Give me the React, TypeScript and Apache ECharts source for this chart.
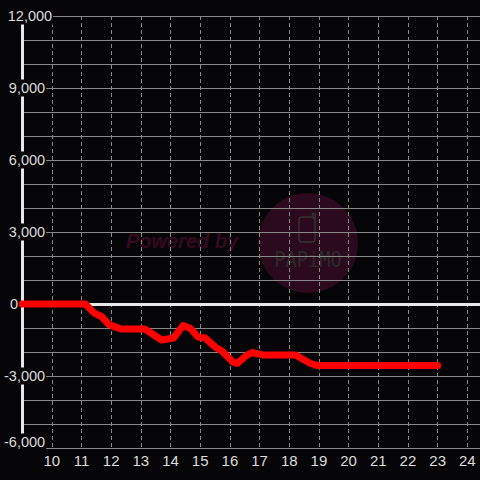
import React, { useEffect, useRef } from "react";
import * as echarts from "echarts";

// Time of day (hours) and cumulative value
const HOURS = [9, 11.13, 11.43, 11.67, 11.93, 12.33, 13.13, 13.7, 14.1, 14.42, 14.67, 14.93, 15.17, 15.5, 15.72, 16.1, 16.25, 16.55, 16.75, 17.1, 18.2, 18.7, 18.93, 23];
const VALUES = [0, 0, -380, -520, -860, -1040, -1040, -1500, -1420, -900, -1020, -1380, -1420, -1790, -1950, -2420, -2470, -2150, -2020, -2120, -2120, -2470, -2560, -2560];

const X_MIN = 9;
const X_MAX = 25;
const Y_MIN = -6000;
const Y_MAX = 12000;
const Y_STEP = 1000;
const Y_LABEL_STEP = 3000;

const BG = "#050507";
const LABEL_COLOR = "#dddddd";
const FONT = "Liberation Sans";

function fmt(v: number): string {
  const s = Math.abs(v).toString().replace(/\B(?=(\d{3})+(?!\d))/g, ",");
  return (v < 0 ? "-" : "") + s;
}

export default function App() {
  const ref = useRef<HTMLDivElement>(null);
  useEffect(() => {
    if (!ref.current) return;
    const chart = echarts.init(ref.current, undefined, { renderer: "svg" });
    const data = HOURS.map((h, i) => [h, VALUES[i]]);
    chart.setOption({
      animation: false,
      backgroundColor: BG,
      grid: { left: 20, top: 16, right: 0, bottom: 32 },
      graphic: {
        elements: [
          {
            type: "circle",
            z: -10,
            shape: { cx: 308, cy: 243, r: 50 },
            style: { fill: "#2a0a1c" },
          },
          {
            type: "text",
            z: -10,
            x: 182,
            y: 241,
            style: {
              text: "Powered by",
              fill: "#350a21",
              font: "italic bold 20px 'Liberation Sans'",
              textAlign: "center",
              textVerticalAlign: "middle",
            },
          },
          {
            type: "rect",
            z: -9,
            shape: { x: 299, y: 217, width: 16, height: 25, r: 3 },
            style: { fill: "none", stroke: "#363636", lineWidth: 1.3 },
          },
          {
            type: "polyline",
            z: -9,
            shape: { points: [[312.5, 217], [312.5, 213.5], [315, 213.5], [315, 218]] },
            style: { fill: "none", stroke: "#363636", lineWidth: 1.3 },
          },
          {
            type: "text",
            z: -9,
            x: 308,
            y: 259,
            scaleX: 0.85,
            style: {
              text: "PAPiMO",
              fill: "#2c2c2c",
              font: "22px 'DejaVu Sans Mono'",
              textAlign: "center",
              textVerticalAlign: "middle",
            },
          },
        ],
      },
      xAxis: [
        {
          type: "value",
          position: "bottom",
          min: X_MIN,
          max: X_MAX,
          interval: 1,
          axisLine: { show: false, onZero: false },
          axisTick: { show: false },
          axisLabel: {
            color: LABEL_COLOR,
            fontFamily: FONT,
            fontSize: 15,
            margin: 5,
            formatter: (v: number) => (v === X_MIN || v === X_MAX ? "" : String(v)),
          },
          splitLine: { show: true, lineStyle: { color: "#888888", width: 1, type: [4, 3] } },
        },
        {
          type: "value",
          position: "bottom",
          min: X_MIN,
          max: X_MAX,
          interval: 1,
          axisLine: { show: true, onZero: true, onZeroAxisIndex: 0, lineStyle: { color: "#e8e8e8", width: 3 } },
          axisTick: { show: false },
          axisLabel: { show: false },
          splitLine: { show: false },
        },
      ],
      yAxis: {
        type: "value",
        min: Y_MIN,
        max: Y_MAX,
        interval: Y_STEP,
        axisLine: { show: true, onZero: false, lineStyle: { color: "#e8e8e8", width: 3 } },
        axisTick: { show: false },
        splitLine: { show: true, lineStyle: { color: "#888888", width: 1 } },
        axisLabel: {
          margin: -31,
          align: "right",
          formatter: (v: number) => {
            if (v % Y_LABEL_STEP !== 0) return "";
            if (v === Y_MAX) return "{n|" + fmt(v) + "}";
            if (v === Y_MIN) return "{b|" + fmt(v) + "}{s| }";
            if (v === 0) return "{n|0}{z| }";
            return "{n|" + fmt(v) + "}{s| }";
          },
          rich: {
            n: {
              color: LABEL_COLOR,
              fontFamily: FONT,
              fontSize: 14.5,
              backgroundColor: BG,
              padding: [1, 1, 1, 1],
            },
            b: {
              color: LABEL_COLOR,
              fontFamily: FONT,
              fontSize: 14.5,
              backgroundColor: BG,
              padding: [1, 1, 13, 1],
            },
            s: { width: 7, fontSize: 14.5 },
            z: { width: 34, fontSize: 14.5 },
          },
        },
      },
      series: [
        {
          type: "line",
          xAxisIndex: 0,
          z: 3,
          data,
          showSymbol: false,
          symbol: "none",
          lineStyle: { color: "#ff0000", width: 7, cap: "round", join: "round" },
        },
      ],
    });
    return () => chart.dispose();
  }, []);
  return (
    <div style={{ position: "fixed", left: 0, top: 0, width: 480, height: 480, overflow: "hidden" }}>
      <div ref={ref} style={{ width: 500, height: 480 }} />
    </div>
  );
}
